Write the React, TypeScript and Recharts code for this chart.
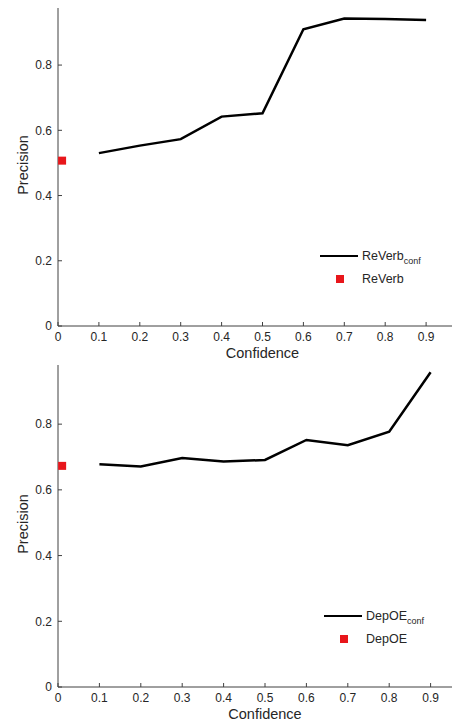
import {
  ComposedChart,
  Line,
  Scatter,
  XAxis,
  YAxis,
  Legend,
  Label,
} from "recharts";

// confidence thresholds on the x axis
const confidence = [0.1, 0.2, 0.3, 0.4, 0.5, 0.6, 0.7, 0.8, 0.9];
// precision
const reverbConf = [0.53, 0.553, 0.573, 0.642, 0.652, 0.91, 0.943, 0.941, 0.938];
const depoeConf = [0.678, 0.671, 0.697, 0.686, 0.691, 0.752, 0.736, 0.777, 0.958];
// baseline systems (single red square near x = 0)
const baseX = 0.01;
const reverbBase = 0.507;
const depoeBase = 0.673;

const xTicks = [0, 0.1, 0.2, 0.3, 0.4, 0.5, 0.6, 0.7, 0.8, 0.9];
const yTicks = [0, 0.2, 0.4, 0.6, 0.8];

const RED = "#e8161b";
const INK = "#262626";
const AXIS = "#404040";
const FONT = '"Liberation Sans", Arial, sans-serif';

const fmt = (v: number) => (v === 0 ? "0" : String(Number(v.toFixed(1))));

const Square = (props: any) => {
  const { cx, cy } = props;
  if (cx == null || cy == null) return null;
  return <rect x={cx - 4} y={cy - 4} width={8} height={8} fill={RED} />;
};

const yLabel = (props: any) => {
  const vb = props.viewBox || { x: 0, y: 0, width: 58, height: 0 };
  const cx = 22.7;
  const cy = vb.y + vb.height / 2 - 2;
  return (
    <text
      x={cx}
      y={cy}
      dy="0.36em"
      transform={`rotate(-90 ${cx} ${cy})`}
      textAnchor="middle"
      fontSize={14.5}
      fill={INK}
      fontFamily={FONT}
    >
      Precision
    </text>
  );
};

const makeLegend = (name: string) => () =>
  (
    <div style={{ fontFamily: FONT, fontSize: 12.5, color: INK }}>
      <div style={{ display: "flex", alignItems: "center", height: 23 }}>
        <div style={{ width: 44, display: "flex", alignItems: "center" }}>
          <div style={{ marginLeft: 2, width: 38, height: 2.5, background: "#000" }} />
        </div>
        <span style={{ whiteSpace: "nowrap" }}>
          {name}
          <span style={{ fontSize: 9, position: "relative", top: 4 }}>conf</span>
        </span>
      </div>
      <div style={{ display: "flex", alignItems: "center", height: 23 }}>
        <div style={{ width: 44, display: "flex", justifyContent: "center" }}>
          <div style={{ width: 8, height: 8, background: RED }} />
        </div>
        <span>{name}</span>
      </div>
    </div>
  );

interface PanelProps {
  values: number[];
  base: number;
  name: string;
  width: number;
  height: number;
  top: number;
  marginTop: number;
  xAxisHeight: number;
  yMax: number;
  legendLeft: number;
  legendTop: number;
  xLabelOffset: number;
}

const Panel = (p: PanelProps) => {
  const lineData = confidence.map((c, i) => ({ c, p: p.values[i] }));
  const baseData = [{ c: baseX, p: p.base }];
  const tickStyle = { fontSize: 12, fill: INK, fontFamily: FONT };
  return (
    <div style={{ position: "absolute", left: 0, top: p.top }}>
      <ComposedChart
        width={p.width}
        height={p.height}
        data={lineData}
        margin={{ top: p.marginTop, right: 3, left: 0, bottom: 0 }}
      >
        <XAxis
          dataKey="c"
          type="number"
          domain={[0, 1]}
          ticks={xTicks}
          interval={0}
          tickFormatter={fmt}
          height={p.xAxisHeight}
          tickSize={-4}
          tickMargin={10.5}
          stroke={AXIS}
          tick={tickStyle}
          allowDataOverflow
        >
          <Label
            value="Confidence"
            position="insideBottom"
            offset={p.xLabelOffset}
            style={{ fontSize: 14.5, fill: INK, fontFamily: FONT }}
          />
        </XAxis>
        <YAxis
          type="number"
          domain={[0, p.yMax]}
          ticks={yTicks}
          interval={0}
          tickFormatter={fmt}
          width={58}
          tickSize={-4}
          tickMargin={10}
          stroke={AXIS}
          tick={tickStyle}
          allowDataOverflow
        >
          <Label content={yLabel} />
        </YAxis>
        <Line
          dataKey="p"
          stroke="#000"
          strokeWidth={2.5}
          dot={false}
          activeDot={false}
          isAnimationActive={false}
        />
        <Scatter
          data={baseData}
          dataKey="p"
          shape={Square}
          isAnimationActive={false}
        />
        <Legend
          layout="vertical"
          verticalAlign="middle"
          align="center"
          content={makeLegend(p.name)}
          wrapperStyle={{ left: p.legendLeft, top: p.legendTop, width: 130 }}
        />
      </ComposedChart>
    </div>
  );
};

export default function App() {
  return (
    <div
      style={{
        position: "absolute",
        left: 0,
        top: 0,
        width: 452,
        height: 722,
        overflow: "hidden",
        background: "#fff",
      }}
    >
      <Panel
        values={reverbConf}
        base={reverbBase}
        name="ReVerb"
        width={470}
        height={360}
        top={0}
        marginTop={8}
        xAxisHeight={34}
        yMax={0.975}
        legendLeft={318}
        legendTop={244.5}
        xLabelOffset={2}
      />
      <Panel
        values={depoeConf}
        base={depoeBase}
        name="DepOE"
        width={475}
        height={364}
        top={358}
        marginTop={7}
        xAxisHeight={35}
        yMax={0.98}
        legendLeft={322}
        legendTop={246.5}
        xLabelOffset={3}
      />
    </div>
  );
}
